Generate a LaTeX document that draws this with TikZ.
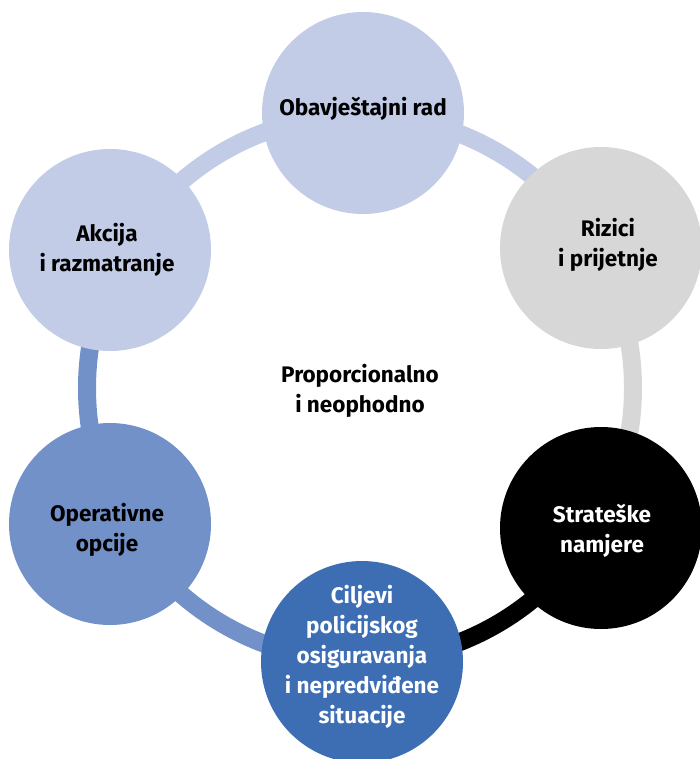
\documentclass[tikz,border=0pt]{standalone}
\usepackage{fontspec}
\setmainfont{Fira Sans}
\definecolor{lblue}{HTML}{C2CCE7}
\definecolor{lgray}{HTML}{D7D7D7}
\definecolor{mblue}{HTML}{7291C9}
\definecolor{dblue}{HTML}{3D6EB4}
\tikzset{
  stage/.style={circle, minimum size=202pt, inner sep=0pt, align=center,
    font=\bfseries\fontsize{22.5}{30}\selectfont},
  ringarc/.style={line width=18pt}
}
\begin{document}
\begin{tikzpicture}[x=1pt,y=-1pt]
\useasboundingbox (0,0) rectangle (699,759);
\coordinate (c) at (360,388);
% ring segments
\draw[ringarc, lblue] (c) ++(210:273) arc[start angle=210, end angle=330, radius=273];
\draw[ringarc, lgray] (c) ++(330:273) arc[start angle=330, end angle=390, radius=273];
\draw[ringarc, black] (c) ++(30:273) arc[start angle=30, end angle=90, radius=273];
\draw[ringarc, mblue] (c) ++(90:273) arc[start angle=90, end angle=210, radius=273];
% circles
\node[stage, fill=lblue] (top) at (363,113) {};
\node[stage, fill=lblue] (tl) at (110,250) {};
\node[stage, fill=lgray] (tr) at (601,248) {};
\node[stage, fill=black] (br) at (601,528) {};
\node[stage, fill=dblue] (bot) at (362,662) {};
\node[stage, fill=mblue] (bl) at (110,524) {};
% texts
\node[stage, minimum size=0pt] (toptxt) at (363,109) {Obavještajni rad};
\node[stage, minimum size=0pt] (tltxt) at (107,250) {Akcija\\i razmatranje};
\node[stage, minimum size=0pt] (trtxt) at (608,245) {Rizici\\i prijetnje};
\node[stage, minimum size=0pt] (ctxt) at (360,391) {Proporcionalno\\i neophodno};
\node[stage, minimum size=0pt] (bltxt) at (107,530) {Operativne\\opcije};
\node[stage, minimum size=0pt, text=white] (brtxt) at (602,531) {Strateške\\namjere};
\node[stage, minimum size=0pt, text=white] (bottxt) at (362,657) {Ciljevi\\policijskog\\osiguravanja\\i nepredviđene\\situacije};
\end{tikzpicture}
\end{document}
